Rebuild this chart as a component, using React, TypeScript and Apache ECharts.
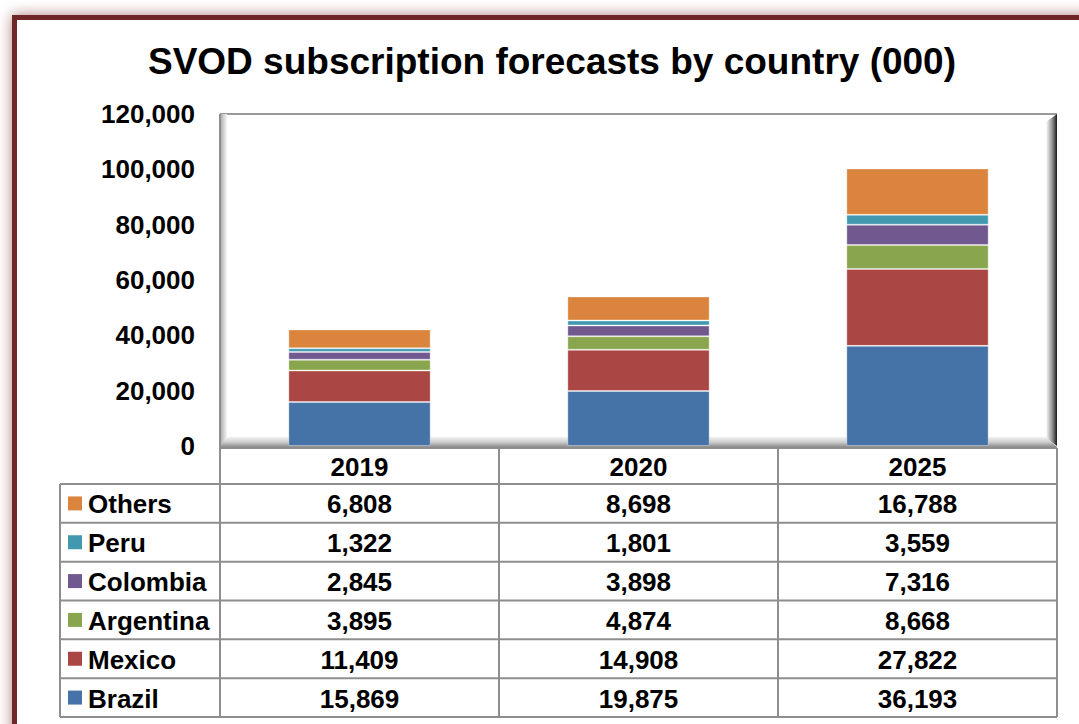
import React, { useEffect, useRef } from "react";
import * as echarts from "echarts";

const years = ["2019", "2020", "2025"];
const countries = ["Brazil", "Mexico", "Argentina", "Colombia", "Peru", "Others"];
const brazil = [15869, 19875, 36193];
const mexico = [11409, 14908, 27822];
const argentina = [3895, 4874, 8668];
const colombia = [2845, 3898, 7316];
const peru = [1322, 1801, 3559];
const others = [6808, 8698, 16788];
const seriesValues = [brazil, mexico, argentina, colombia, peru, others];
const colors = ["#4572A7", "#AA4643", "#89A54E", "#71588F", "#4198AF", "#DB843D"];
const yMin = 0;
const yMax = 120000;
const yInterval = 20000;
const titleText = "SVOD subscription forecasts by country (000)";

const FONT = "'Liberation Sans', Arial, Helvetica, sans-serif";
const GRID = { left: 220, top: 114, width: 837, height: 332 };
const TABLE = { left: 60, headerTop: 448, headerBottom: 484, bottom: 717 };
const LINE = "#8e8e8e";

const fmt = (v: number) => v.toLocaleString("en-US");

export default function App() {
  const ref = useRef<HTMLDivElement>(null);
  useEffect(() => {
    if (!ref.current) return;
    const chart = echarts.init(ref.current, null, { renderer: "svg" });
    chart.setOption({
      animation: false,
      backgroundColor: "#ffffff",
      grid: { ...GRID, containLabel: false },
      xAxis: {
        type: "category",
        data: years,
        boundaryGap: true,
        axisLine: { show: false },
        axisTick: { show: false },
        axisLabel: { show: false },
      },
      yAxis: {
        type: "value",
        min: yMin,
        max: yMax,
        interval: yInterval,
        axisLine: { show: false },
        axisTick: { show: false },
        axisLabel: {
          margin: 25,
          fontFamily: FONT,
          fontSize: 26,
          fontWeight: "bold",
          color: "#000",
          formatter: (v: number) => fmt(v),
        },
        splitLine: { lineStyle: { color: "#8a8a8a", width: 2 } },
      },
      series: countries.map((name, i) => ({
        name,
        type: "bar",
        stack: "total",
        barWidth: "51%",
        z: 5,
        data: seriesValues[i],
        itemStyle: {
          color: colors[i],
          borderColor: "rgba(255,255,255,0.35)",
          borderWidth: 1,
        },
      })),
    });

    const centers = years.map((y) => chart.convertToPixel({ xAxisIndex: 0 }, y) as number);
    const band = centers.length > 1 ? centers[1] - centers[0] : GRID.width;
    const colLeft = centers.map((c) => c - band / 2);
    const tableRight = colLeft[colLeft.length - 1] + band;
    const plotLeft = colLeft[0];
    const floorY = chart.convertToPixel({ yAxisIndex: 0 }, yMin) as number;
    const topY = chart.convertToPixel({ yAxisIndex: 0 }, yMax) as number;
    const rows = [...countries].reverse();
    const rowH = (TABLE.bottom - TABLE.headerBottom) / rows.length;

    const g: any[] = [];
    // outer frame
    g.push({
      type: "rect",
      z: 0,
      shape: { x: 14.5, y: 17.5, width: 1120, height: 760 },
      style: {
        fill: "#ffffff",
        stroke: "#6e2626",
        lineWidth: 5,
        shadowBlur: 14,
        shadowColor: "rgba(120,40,40,0.6)",
      },
    });
    // title
    g.push({
      type: "text",
      z: 20,
      x: 552,
      y: 61,
      style: {
        text: titleText,
        font: `bold 37px ${FONT}`,
        fill: "#000",
        textAlign: "center",
        textVerticalAlign: "middle",
      },
    });
    // plot top border
    g.push({
      type: "line",
      z: 3,
      shape: { x1: plotLeft, y1: topY, x2: tableRight, y2: topY },
      style: { stroke: "#9a9a9a", lineWidth: 2 },
    });
    // left wall
    g.push({
      type: "rect",
      z: 3,
      shape: { x: plotLeft, y: topY, width: 7, height: floorY - topY },
      style: {
        fill: new echarts.graphic.LinearGradient(0, 0, 1, 0, [
          { offset: 0, color: "#a8a8a8" },
          { offset: 1, color: "#f6f6f6" },
        ]),
      },
    });
    // right wall
    g.push({
      type: "polygon",
      z: 3,
      shape: {
        points: [
          [tableRight - 11, topY + 8],
          [tableRight, topY],
          [tableRight, floorY],
          [tableRight - 11, floorY - 8],
        ],
      },
      style: {
        fill: new echarts.graphic.LinearGradient(0, 0, 1, 0, [
          { offset: 0, color: "#ffffff" },
          { offset: 0.6, color: "#8a8a8a" },
          { offset: 1, color: "#1a1a1a" },
        ]),
      },
    });
    // floor
    g.push({
      type: "polygon",
      z: 3,
      shape: {
        points: [
          [plotLeft, floorY + 1],
          [plotLeft + 8, floorY - 9],
          [tableRight - 11, floorY - 9],
          [tableRight, floorY + 1],
        ],
      },
      style: {
        fill: new echarts.graphic.LinearGradient(0, 0, 0, 1, [
          { offset: 0, color: "#f2f2f2" },
          { offset: 0.5, color: "#cfcfcf" },
          { offset: 1, color: "#8c8c8c" },
        ]),
      },
    });
    // table lines
    const hl = (x1: number, x2: number, y: number) =>
      g.push({ type: "line", z: 10, shape: { x1, y1: y, x2, y2: y }, style: { stroke: LINE, lineWidth: 2 } });
    const vl = (x: number, y1: number, y2: number) =>
      g.push({ type: "line", z: 10, shape: { x1: x, y1, x2: x, y2 }, style: { stroke: LINE, lineWidth: 2 } });

    hl(plotLeft, tableRight, TABLE.headerTop);
    for (let r = 0; r <= rows.length; r++) hl(TABLE.left, tableRight, TABLE.headerBottom + r * rowH);
    vl(TABLE.left, TABLE.headerBottom, TABLE.bottom);
    vl(plotLeft, topY, TABLE.bottom);
    for (let c = 0; c < years.length; c++) vl(colLeft[c] + band, TABLE.headerTop, TABLE.bottom);

    // header
    years.forEach((y, c) => {
      g.push({
        type: "text",
        z: 11,
        x: centers[c],
        y: (TABLE.headerTop + TABLE.headerBottom) / 2 + 1,
        style: {
          text: y,
          font: `bold 26px ${FONT}`,
          fill: "#000",
          textAlign: "center",
          textVerticalAlign: "middle",
        },
      });
    });
    // rows
    rows.forEach((name, r) => {
      const idx = countries.indexOf(name);
      const cy = TABLE.headerBottom + r * rowH + rowH / 2 + 1;
      g.push({
        type: "rect",
        z: 11,
        shape: { x: TABLE.left + 8, y: cy - 8, width: 14, height: 14 },
        style: { fill: colors[idx] },
      });
      g.push({
        type: "text",
        z: 11,
        x: TABLE.left + 28,
        y: cy,
        style: {
          text: name,
          font: `bold 26px ${FONT}`,
          fill: "#000",
          textAlign: "left",
          textVerticalAlign: "middle",
        },
      });
      years.forEach((_, c) => {
        g.push({
          type: "text",
          z: 11,
          x: centers[c],
          y: cy,
          style: {
            text: fmt(seriesValues[idx][c]),
            font: `bold 26px ${FONT}`,
            fill: "#000",
            textAlign: "center",
            textVerticalAlign: "middle",
          },
        });
      });
    });

    chart.setOption({ graphic: g });
    return () => chart.dispose();
  }, []);

  return (
    <div
      ref={ref}
      style={{ position: "absolute", left: 0, top: 0, width: 1079, height: 724, overflow: "hidden" }}
    />
  );
}
